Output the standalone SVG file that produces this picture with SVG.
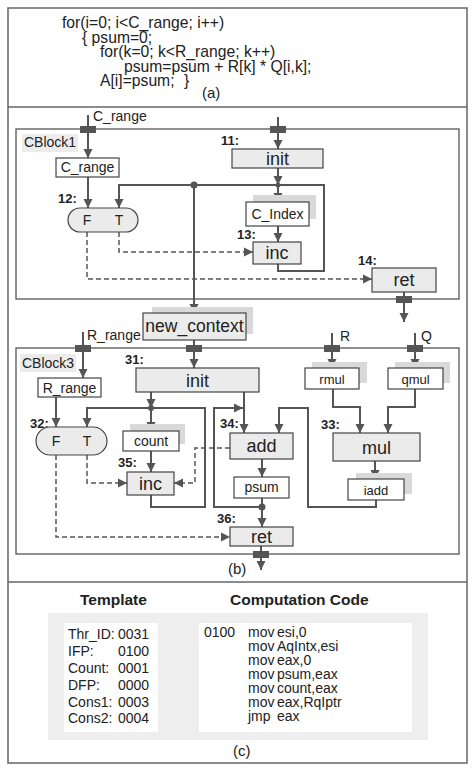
<svg xmlns="http://www.w3.org/2000/svg" width="474" height="773" viewBox="0 0 474 773">
<defs>
<marker id="ah" markerUnits="userSpaceOnUse" markerWidth="10" markerHeight="10" refX="9" refY="5" orient="auto" viewBox="0 0 10 10">
<path d="M0,0.5 L9,5 L0,9.5 z" fill="#555"/>
</marker>
<style>
text{font-family:"Liberation Sans",Arial,sans-serif;fill:#222}
.frame{fill:none;stroke:#666;stroke-width:1.5}
.blk{fill:none;stroke:#555;stroke-width:1.3}
.op{fill:#ebebeb;stroke:#444;stroke-width:1.2}
.dat{fill:#fff;stroke:#444;stroke-width:1.2}
.sh{fill:#d9d9d9}
.port{fill:#555}
.c{fill:none;stroke:#555;stroke-width:2;marker-end:url(#ah)}
.cn{fill:none;stroke:#555;stroke-width:2}
.d{fill:none;stroke:#555;stroke-width:1.5;stroke-dasharray:5,3;marker-end:url(#ah)}
.dot{fill:#555}
.code{font-size:15.7px}
.lbl{font-size:14px}
.num{font-size:13px;font-weight:bold}
.big{font-size:18px;text-anchor:middle}
.mid{font-size:14px;text-anchor:middle}
.sm{font-size:13px;text-anchor:middle}
.hd{font-size:15.5px;font-weight:bold}
.cap{font-size:15px}
</style>
</defs>
<rect width="474" height="773" fill="#fff"/>
<g id="frame">
<rect class="frame" x="8" y="8" width="459" height="755"/>
<line class="frame" x1="8" y1="107" x2="467" y2="107"/>
<line class="frame" x1="8" y1="582" x2="467" y2="582"/>
</g>
<g id="section-a">
<text class="code" x="62" y="28">for(i=0; i&lt;C_range; i++)</text>
<text class="code" x="82" y="42.5">{ psum=0;</text>
<text class="code" x="100" y="57">for(k=0; k&lt;R_range; k++)</text>
<text class="code" x="124" y="71.5">psum=psum + R[k] * Q[i,k];</text>
<text class="code" x="100" y="86">A[i]=psum;</text>
<text class="code" x="184" y="86">}</text>
<text class="cap" x="202" y="98">(a)</text>
</g>
<g id="blocks">
<rect class="blk" x="16" y="129" width="443" height="170"/>
<rect class="blk" x="16" y="348" width="443" height="206"/>
</g>
<g id="connectors">
<line class="c" x1="88" y1="115" x2="88" y2="158"/>
<line class="c" x1="278" y1="117" x2="278" y2="149"/>
<line class="c" x1="278" y1="168" x2="278" y2="185"/>
<line class="c" x1="278" y1="185" x2="278" y2="202"/>
<path class="c" d="M278,264 V271 H324 V185 H119 V208"/>
<line class="c" x1="194" y1="185" x2="194" y2="313"/>
<line class="c" x1="88" y1="177" x2="88" y2="208"/>
<line class="c" x1="278" y1="226" x2="278" y2="242"/>
<path class="d" d="M119,232 V252 H253"/>
<path class="d" d="M87,232 V279 H372"/>
<line class="c" x1="404" y1="292" x2="404" y2="322"/>
<line class="c" x1="194" y1="340" x2="194" y2="368"/>
<line class="c" x1="83" y1="332" x2="83" y2="378"/>
<line class="c" x1="56" y1="397" x2="56" y2="427"/>
<path class="c" d="M151,495 V507 H205 V408 H87 V427"/>
<line class="c" x1="151" y1="392" x2="151" y2="408"/>
<line class="c" x1="151" y1="408" x2="151" y2="431"/>
<line class="c" x1="151" y1="451" x2="151" y2="472"/>
<path class="d" d="M87,455 V483 H127"/>
<path class="d" d="M56,455 V537 H230"/>
<path class="d" d="M230,448 H195 V483 H174"/>
<line class="c" x1="244" y1="392" x2="244" y2="433"/>
<path class="c" d="M262,507 H214 V408 H243"/>
<path class="c" d="M376,500 V507 H308 V408 H279 V433"/>
<line class="c" x1="262" y1="459" x2="262" y2="477"/>
<line class="cn" x1="262" y1="498" x2="262" y2="507"/>
<line class="c" x1="262" y1="507" x2="262" y2="527"/>
<line class="c" x1="261" y1="546" x2="261" y2="570"/>
<line class="c" x1="332" y1="333" x2="332" y2="368"/>
<line class="c" x1="415" y1="333" x2="415" y2="368"/>
<path class="c" d="M333,389 V407 H360 V433"/>
<path class="c" d="M415,389 V407 H388 V433"/>
<line class="c" x1="375" y1="461" x2="375" y2="479"/>
<path class="c" d="M158,657 H177 V633 H198"/>
<circle class="dot" cx="194" cy="185" r="3.5"/>
<circle class="dot" cx="278" cy="185" r="2.5"/>
<circle class="dot" cx="151" cy="408" r="3"/>
<circle class="dot" cx="262" cy="507" r="3.5"/>
</g>
<g id="ports">
<rect class="port" x="80" y="126" width="16" height="7"/>
<rect class="port" x="270" y="126" width="16" height="7"/>
<rect class="port" x="396" y="296" width="16" height="7"/>
<rect class="port" x="186" y="345" width="16" height="7"/>
<rect class="port" x="75" y="345" width="16" height="7"/>
<rect class="port" x="324" y="345" width="16" height="7"/>
<rect class="port" x="407" y="345" width="16" height="7"/>
<rect class="port" x="253" y="551" width="16" height="7"/>
</g>
<g id="cblock1-label">
<rect x="22" y="134" width="56" height="18" fill="#ececec"/>
<text class="lbl" x="24" y="147">CBlock1</text>
<text class="lbl" x="93" y="121">C_range</text>
</g>
<g id="n-crange">
<rect class="dat" x="56" y="158" width="63" height="19"/>
<text class="mid" x="87.5" y="172">C_range</text>
</g>
<g id="n11-init">
<text class="num" x="221" y="145">11:</text>
<rect class="op" x="232" y="149" width="91" height="19"/>
<text class="big" x="277.5" y="164.5">init</text>
</g>
<g id="n12-branch">
<text class="num" x="58" y="203">12:</text>
<rect class="op" x="68" y="208" width="70" height="24" rx="12"/>
<text class="mid" x="87" y="225">F</text>
<text class="mid" x="119" y="225">T</text>
</g>
<g id="n-cindex">
<rect class="sh" x="253" y="195" width="63" height="24"/>
<rect class="dat" x="246" y="202" width="63" height="24"/>
<text class="mid" x="277.5" y="219">C_Index</text>
</g>
<g id="n13-inc">
<text class="num" x="237" y="239">13:</text>
<rect class="op" x="253" y="242" width="48" height="22"/>
<text class="big" x="277" y="259">inc</text>
</g>
<g id="n14-ret">
<text class="num" x="358" y="265">14:</text>
<rect class="op" x="372" y="268" width="64" height="24"/>
<text class="big" x="404" y="286">ret</text>
</g>
<g id="n-newcontext">
<rect class="sh" x="152" y="307" width="101" height="27"/>
<rect class="op" x="143" y="313" width="103" height="27" fill="#eeeeee"/>
<text class="big" x="194.5" y="332" style="font-size:17.5px">new_context</text>
</g>
<g id="cblock3-label">
<rect x="20" y="354" width="56" height="18" fill="#ececec"/>
<text class="lbl" x="22" y="368">CBlock3</text>
<text class="lbl" x="87" y="340">R_range</text>
<text class="lbl" x="340" y="341">R</text>
<text class="lbl" x="421" y="341">Q</text>
</g>
<g id="n-rrange">
<rect class="dat" x="38" y="378" width="63" height="19"/>
<text class="mid" x="69.5" y="393">R_range</text>
</g>
<g id="n31-init">
<text class="num" x="125" y="364">31:</text>
<rect class="op" x="136" y="368" width="123" height="24"/>
<text class="big" x="197.5" y="387">init</text>
</g>
<g id="n32-branch">
<text class="num" x="30" y="428">32:</text>
<rect class="op" x="36" y="427" width="71" height="28" rx="14"/>
<text class="mid" x="56" y="446">F</text>
<text class="mid" x="87" y="446">T</text>
</g>
<g id="n-count">
<rect class="sh" x="130" y="424" width="55" height="20"/>
<rect class="dat" x="123" y="431" width="56" height="20"/>
<text class="mid" x="151" y="446">count</text>
</g>
<g id="n35-inc">
<text class="num" x="118" y="467">35:</text>
<rect class="op" x="127" y="472" width="47" height="23"/>
<text class="big" x="150.5" y="490">inc</text>
</g>
<g id="n34-add">
<text class="num" x="220" y="428">34:</text>
<rect class="op" x="230" y="433" width="63" height="26"/>
<text class="big" x="261.5" y="452">add</text>
</g>
<g id="n-psum">
<rect class="dat" x="234" y="477" width="55" height="21"/>
<text class="mid" x="261.5" y="492">psum</text>
</g>
<g id="n36-ret">
<text class="num" x="217" y="523">36:</text>
<rect class="op" x="230" y="527" width="63" height="19"/>
<text class="big" x="261.5" y="542.5">ret</text>
</g>
<g id="n-rmul">
<rect class="sh" x="312" y="362" width="55" height="21"/>
<rect class="dat" x="305" y="368" width="54" height="21"/>
<text class="sm" x="332" y="383.5">rmul</text>
</g>
<g id="n-qmul">
<rect class="sh" x="395" y="362" width="55" height="21"/>
<rect class="dat" x="388" y="368" width="55" height="21"/>
<text class="sm" x="415.5" y="383.5">qmul</text>
</g>
<g id="n33-mul">
<text class="num" x="321" y="429">33:</text>
<rect class="op" x="333" y="433" width="87" height="28"/>
<text class="big" x="376.5" y="453.5">mul</text>
</g>
<g id="n-iadd">
<rect class="sh" x="356" y="473" width="56" height="21"/>
<rect class="dat" x="348" y="479" width="56" height="21"/>
<text class="sm" x="376" y="494.5">iadd</text>
</g>
<text class="cap" x="228" y="574">(b)</text>
<g id="section-c">
<text class="hd" x="80" y="605">Template</text>
<text class="hd" x="230" y="605">Computation Code</text>
<rect x="48" y="613" width="380" height="127" fill="#eeeeee"/>
</g>
<g id="n-template">
<rect x="64" y="623" width="94" height="109" fill="#fff"/>
<text class="lbl" x="68" y="639">Thr_ID:</text><text class="lbl" x="118" y="639">0031</text>
<text class="lbl" x="68" y="656">IFP:</text><text class="lbl" x="118" y="656">0100</text>
<text class="lbl" x="68" y="673">Count:</text><text class="lbl" x="118" y="673">0001</text>
<text class="lbl" x="68" y="690">DFP:</text><text class="lbl" x="118" y="690">0000</text>
<text class="lbl" x="68" y="707">Cons1:</text><text class="lbl" x="118" y="707">0003</text>
<text class="lbl" x="68" y="723">Cons2:</text><text class="lbl" x="118" y="723">0004</text>
</g>
<g id="n-code">
<rect x="199" y="623" width="213" height="109" fill="#fff"/>
<text class="lbl" x="204" y="637">0100</text>
<text class="lbl" x="248" y="637">mov</text><text class="lbl" x="277" y="637">esi,0</text>
<text class="lbl" x="248" y="651">mov</text><text class="lbl" x="277" y="651">AqIntx,esi</text>
<text class="lbl" x="248" y="665">mov</text><text class="lbl" x="277" y="665">eax,0</text>
<text class="lbl" x="248" y="679">mov</text><text class="lbl" x="277" y="679">psum,eax</text>
<text class="lbl" x="248" y="693">mov</text><text class="lbl" x="277" y="693">count,eax</text>
<text class="lbl" x="248" y="707">mov</text><text class="lbl" x="277" y="707">eax,RqIptr</text>
<text class="lbl" x="248" y="721">jmp</text><text class="lbl" x="277" y="721">eax</text>
</g>
<text class="cap" x="233" y="756">(c)</text>
</svg>
